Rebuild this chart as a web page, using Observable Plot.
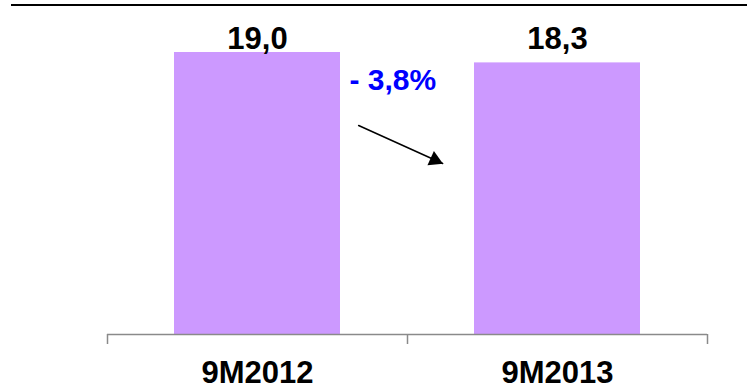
<!DOCTYPE html>
<html>
<head>
<meta charset="utf-8">
<script src="https://cdn.jsdelivr.net/npm/d3@7"></script>
<script src="https://cdn.jsdelivr.net/npm/@observablehq/plot@0.6"></script>
<style>
  html, body { margin: 0; padding: 0; background: #fff; }
  #wrap { position: relative; width: 747px; height: 388px; }
  #topline { position: absolute; top: 4px; left: 11px; right: 0; height: 2px; background: #000; }
</style>
</head>
<body>
<div id="wrap"><div id="topline"></div></div>
<script>
// Period totals
const categories = ["9M2012", "9M2013"];
const values = [19.0, 18.3];
// Year-on-year change annotation
const changeLabel = "- 3,8%";

const data = categories.map((c, i) => ({category: c, value: values[i]}));
const fmt = v => d3.format(".1f")(v).replace(".", ",");

const width = 747, height = 388;
const marginLeft = 107, marginRight = 40, marginTop = 52, marginBottom = 54;
const step = (width - marginLeft - marginRight) / categories.length;

const font = "'Liberation Sans', Arial, sans-serif";

const chart = Plot.plot({
  width, height,
  marginLeft, marginRight, marginTop, marginBottom,
  style: {fontFamily: font, background: "transparent"},
  x: {domain: categories, paddingInner: 0.447, paddingOuter: 0.2235, axis: null},
  y: {domain: [0, 19], axis: null},
  marks: [
    Plot.barY(data, {x: "category", y: "value", fill: "#CC99FF"}),
    // baseline and category separators
    Plot.ruleY([0], {stroke: "#8a8a8a", strokeWidth: 1.5}),
    Plot.ruleX(categories, {x: d => d, dx: -step / 2, y1: 0, y2: 0, insetBottom: -10, stroke: "#8a8a8a", strokeWidth: 1.5}),
    Plot.ruleX(categories.slice(-1), {x: d => d, dx: step / 2, y1: 0, y2: 0, insetBottom: -10, stroke: "#8a8a8a", strokeWidth: 1.5}),
    // value labels above the bars
    Plot.text(data, {
      x: "category", text: d => fmt(d.value),
      frameAnchor: "top", lineAnchor: "bottom", dy: -3.5,
      fontSize: 31, fontWeight: "bold", fill: "#000"
    }),
    // category labels
    Plot.text(categories, {
      x: d => d, text: d => d,
      frameAnchor: "bottom", lineAnchor: "bottom", dy: 48,
      fontSize: 31, fontWeight: "bold", fill: "#000"
    }),
    // change annotation
    Plot.text([changeLabel], {
      x: () => categories[0], y: () => 16.45, text: d => d,
      textAnchor: "start", lineAnchor: "bottom", dx: 92,
      fontSize: 30, fontWeight: "bold", fill: "#0000ff"
    }),
    Plot.arrow([{from: categories[0], to: categories[1]}], {
      x1: "from", x2: "to", y1: () => 17.16, y2: () => 8.02,
      insetStart: 111, insetEnd: 126, headLength: 0, bend: 0,
      stroke: "#000", strokeWidth: 1.5
    }),
    Plot.dot([categories[1]], {
      x: d => d, y: () => 11.76, dx: -122.7,
      symbol: "triangle", r: 5.8, rotate: 114.3, fill: "#000"
    })
  ]
});

document.getElementById("wrap").appendChild(chart);
</script>
</body>
</html>
